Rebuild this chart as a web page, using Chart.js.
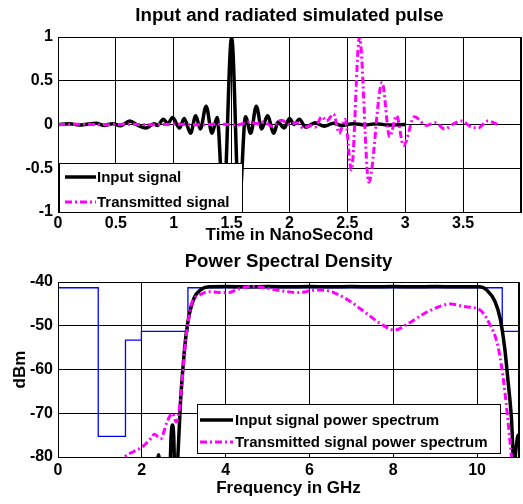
<!DOCTYPE html>
<html>
<head>
<meta charset="utf-8">
<script src="https://cdn.jsdelivr.net/npm/chart.js@4.4.0/dist/chart.umd.min.js"></script>
<style>
  html, body { margin: 0; padding: 0; background: #fff; }
  #wrap { position: relative; width: 523px; height: 504px; }
  .box { position: absolute; left: 0; width: 523px; }
</style>
</head>
<body>
<div id="wrap">
  <div class="box" style="top:0;height:250px"><canvas id="pulseChart"></canvas></div>
  <div class="box" style="top:250px;height:254px"><canvas id="psdChart"></canvas></div>
</div>
<script>
/* ============================================================
   DATOS: pulso en el tiempo (ns)
============================================================ */

const inputTime = [0, 0.1, 0.18, 0.26, 0.33, 0.4, 0.47, 0.54, 0.62, 0.69, 0.76, 0.83, 0.86, 0.91, 0.95, 0.99,
    1.05, 1.09, 1.145, 1.19, 1.23, 1.28, 1.33, 1.375, 1.43, 1.5, 1.565, 1.62, 1.665, 1.713, 1.76, 1.81,
    1.865, 1.9, 1.955, 2.0, 2.04, 2.085, 2.14, 2.22, 2.3, 2.38, 2.45, 2.55, 2.65, 2.75, 2.85, 3.0];
const inputSignal = [0, 0.008, -0.005, 0.005, 0.015, -0.01, 0.01, -0.015, 0.04, -0.01, -0.04, 0.01, -0.01, 0.06, 0.01, 0.08,
    -0.04, 0.07, -0.1, 0.1, -0.05, 0.21, -0.1, 0.08, -0.95, 1.0, -0.95, 0.09, -0.1, 0.21, -0.05, 0.1,
    -0.1, 0.03, -0.04, 0.07, 0.0, 0.06, -0.03, 0.02, -0.02, 0.015, -0.01, 0.01, -0.005, 0.008, -0.005, 0.0];

const transTime = [0, 0.2, 0.4, 0.6, 0.8, 1.0, 1.2, 1.4, 1.55, 1.65, 1.72, 1.78, 1.85, 1.93, 2.0, 2.06, 2.12, 2.18,
    2.22, 2.28, 2.32, 2.38, 2.43, 2.48, 2.535, 2.605, 2.685, 2.8, 2.865, 2.925, 2.985, 3.08, 3.18, 3.26,
    3.34, 3.42, 3.49, 3.56, 3.63, 3.71, 3.8];
const transSignal = [0, 0.003, -0.003, 0.003, -0.003, 0.005, -0.003, 0.003, -0.005, 0.03, 0.01, 0.03, -0.02, 0.05, 0.0, 0.02, -0.04, -0.01,
    -0.03, 0.09, 0.04, 0.12, -0.1, 0.06, -0.52, 1.0, -0.66, 0.48, -0.14, 0.1, -0.24, 0.09, -0.01, 0.02,
    -0.05, 0.01, 0.04, -0.02, -0.04, 0.04, 0.0];

/* ============================================================
   DATOS: densidad espectral (GHz, dBm)
============================================================ */

const inputFreq = [2.3, 2.35, 2.4, 2.45, 2.5, 2.66, 2.7, 2.73, 2.76, 2.8, 2.87, 2.92, 2.97, 3.05, 3.13, 3.25, 3.4, 3.6,
    4, 4.5, 5, 5.5, 6, 6.5, 7, 7.5, 8, 8.5, 9, 9.5, 10.07, 10.23, 10.43, 10.55, 10.66, 10.74, 10.82, 10.88,
    10.93, 10.98, 11];
const inputPsd = [-90, -84, -79.5, -84, -90, -86, -75, -72.7, -75, -88, -78, -68, -61, -52.5, -47.5, -43.6, -41.8, -41.1,
    -41.0, -41.1, -41.0, -41.1, -41.0, -41.1, -41.0, -41.1, -41.0, -41.1, -41.0, -41.1, -41.1, -41.8, -44.5, -48.3, -55.2, -62.8, -71.2, -82,
    -78, -75, -75];

const transFreq = [1.5, 1.6, 1.8, 2.02, 2.22, 2.3, 2.45, 2.6, 2.73, 2.82, 2.88, 2.95, 3.0, 3.05, 3.1, 3.17, 3.25, 3.37,
    3.6, 3.84, 4.08, 4.3, 4.63, 5.2, 5.73, 6.2, 6.52, 6.92, 7.31, 7.71, 8.03, 8.34, 8.74, 9.13, 9.37, 9.68,
    10.07, 10.31, 10.47, 10.58, 10.69, 10.77, 10.85];
const transPsd = [-82, -80, -78.8, -77.6, -75.7, -74.8, -75.8, -72, -70, -72, -70, -64, -58, -53, -49.5, -45.5, -43.8, -43,
    -42.2, -42.4, -42.4, -41.6, -41.0, -41.8, -42.4, -41.8, -42.2, -44.1, -46.8, -49.6, -51.0, -49.6, -47.2, -45.5, -45.0, -45.6,
    -46.4, -49.8, -53.6, -59, -67.4, -75, -83];

const maskFreq = [0, 0.96, 1.61, 1.99, 3.1, 10.6, 11];
const maskLevel = [-41.3, -75.3, -53.3, -51.3, -41.3, -51.3, -51.3];

const pulseXTicks = [0, 0.5, 1, 1.5, 2, 2.5, 3, 3.5];
const psdXTicks = [0, 2, 4, 6, 8, 10];

/* ============================================================
   UTILIDADES
============================================================ */

const FAMILY = "'Liberation Sans', Arial, sans-serif";
Chart.defaults.font.family = FAMILY;
Chart.defaults.color = "#000";

const toPoints = (xs, ys) => xs.map((x, i) => ({ x: x, y: ys[i] }));

// marco negro alrededor del área de datos + leyenda dentro del gráfico
const boxAndLegend = {
    id: "boxAndLegend",
    afterDatasetsDraw(chart, args, opts) {
        const { ctx, chartArea: a } = chart;
        ctx.save();
        ctx.strokeStyle = "#000";
        ctx.lineWidth = 1;
        ctx.strokeRect(Math.round(a.left) + 0.5, Math.round(a.top) + 0.5,
            Math.round(a.right - a.left) - 1, Math.round(a.bottom - a.top));

        const L = opts.box;
        ctx.fillStyle = "#fff";
        ctx.fillRect(L.x, L.y, L.w, L.h);
        ctx.strokeRect(L.x + 0.5, L.y + 0.5, L.w, L.h);
        ctx.font = "bold 15px " + FAMILY;
        ctx.textBaseline = "middle";
        opts.items.forEach((idx, row) => {
            const ds = chart.data.datasets[idx];
            const y = L.rows[row];
            ctx.beginPath();
            ctx.strokeStyle = ds.borderColor;
            ctx.lineWidth = ds.borderWidth;
            ctx.setLineDash(ds.borderDash || []);
            ctx.moveTo(L.lineX0, y);
            ctx.lineTo(L.lineX1, y);
            ctx.stroke();
            ctx.setLineDash([]);
            ctx.fillStyle = "#000";
            ctx.fillText(ds.label, L.textX, y + 1);
        });
        ctx.restore();
    }
};

const axisCommon = {
    type: "linear",
    grid: { color: "#000", lineWidth: 1, drawTicks: false },
    border: { color: "#000", width: 1 },
};

const tickFont = { size: 16, weight: "bold" };
const titleFont = { size: 17, weight: "bold" };

/* ============================================================
   GRÁFICO 1: pulso de entrada y transmitido
============================================================ */

new Chart(document.getElementById("pulseChart"), {
    type: "line",
    data: {
        datasets: [
            {
                label: "Input signal",
                data: toPoints(inputTime, inputSignal),
                borderColor: "#000000",
                borderWidth: 3.5,
                order: 1
            },
            {
                label: "Transmitted signal",
                data: toPoints(transTime, transSignal),
                borderColor: "#ff00ff",
                borderWidth: 3,
                borderDash: [7, 3, 2, 3],
                order: 0
            }
        ]
    },
    options: {
        responsive: true,
        maintainAspectRatio: false,
        animation: false,
        layout: { padding: { right: 1 } },
        elements: { point: { radius: 0 }, line: { cubicInterpolationMode: "monotone" } },
        datasets: { line: { clip: 0 } },
        plugins: {
            legend: { display: false },
            tooltip: { enabled: false },
            title: {
                display: true,
                fullSize: false,
                text: "Input and radiated simulated pulse",
                font: { size: 18.7, weight: "bold" },
                color: "#000",
                padding: { top: 4.8, bottom: 9.8 }
            },
            boxAndLegend: {
                items: [0, 1],
                box: { x: 59, y: 163, w: 183, h: 49, rows: [177, 202], lineX0: 65, lineX1: 96, textX: 97 }
            }
        },
        scales: {
            x: {
                ...axisCommon,
                min: 0, max: 4,
                afterBuildTicks: s => { s.ticks = pulseXTicks.concat([4]).map(v => ({ value: v })); },
                ticks: { font: tickFont, padding: 2, maxRotation: 0, callback: v => (v === 4 ? "" : String(v)) },
                title: { display: true, text: "Time in NanoSecond", font: titleFont, padding: { top: 0, bottom: 4.8 } },
                afterFit: s => { s.height = 38; }
            },
            y: {
                ...axisCommon,
                min: -1, max: 1,
                ticks: { font: tickFont, padding: 5, stepSize: 0.5, callback: v => String(v) },
                afterFit: s => { s.width = 58; }
            }
        }
    },
    plugins: [boxAndLegend]
});

/* ============================================================
   GRÁFICO 2: densidad espectral de potencia
============================================================ */

new Chart(document.getElementById("psdChart"), {
    type: "line",
    data: {
        datasets: [
            {
                label: "Input signal power spectrum",
                data: toPoints(inputFreq, inputPsd),
                borderColor: "#000000",
                borderWidth: 3.5,
                order: 1
            },
            {
                label: "Transmitted signal power spectrum",
                data: toPoints(transFreq, transPsd),
                borderColor: "#ff00ff",
                borderWidth: 3,
                borderDash: [7, 3, 2, 3],
                order: 0
            },
            {
                label: "FCC mask",
                data: toPoints(maskFreq, maskLevel),
                borderColor: "#0000ff",
                borderWidth: 1.3,
                stepped: true,
                order: 2
            }
        ]
    },
    options: {
        responsive: true,
        maintainAspectRatio: false,
        animation: false,
        layout: { padding: { right: 1 } },
        elements: { point: { radius: 0 }, line: { cubicInterpolationMode: "monotone" } },
        datasets: { line: { clip: 0 } },
        plugins: {
            legend: { display: false },
            tooltip: { enabled: false },
            title: {
                display: true,
                fullSize: false,
                text: "Power Spectral Density",
                font: { size: 18.7, weight: "bold" },
                color: "#000",
                padding: { top: 0.8, bottom: 8.8 }
            },
            boxAndLegend: {
                items: [0, 1],
                box: { x: 197, y: 154, w: 303, h: 49, rows: [170, 192], lineX0: 200, lineX1: 233, textX: 235 }
            }
        },
        scales: {
            x: {
                ...axisCommon,
                min: 0, max: 11,
                afterBuildTicks: s => { s.ticks = psdXTicks.concat([11]).map(v => ({ value: v })); },
                ticks: { font: tickFont, padding: 4, maxRotation: 0, callback: v => (v === 11 ? "" : String(v)) },
                title: { display: true, text: "Frequency in GHz", font: titleFont, padding: { top: 0, bottom: 5.5 } },
                afterFit: s => { s.height = 47; }
            },
            y: {
                ...axisCommon,
                min: -80, max: -40,
                ticks: { font: tickFont, padding: 5, stepSize: 10, callback: v => String(v) },
                title: { display: true, text: "dBm", font: titleFont, padding: { top: 10, bottom: 0 } },
                afterFit: s => { s.width = 58; }
            }
        }
    },
    plugins: [boxAndLegend]
});
</script>
</body>
</html>
